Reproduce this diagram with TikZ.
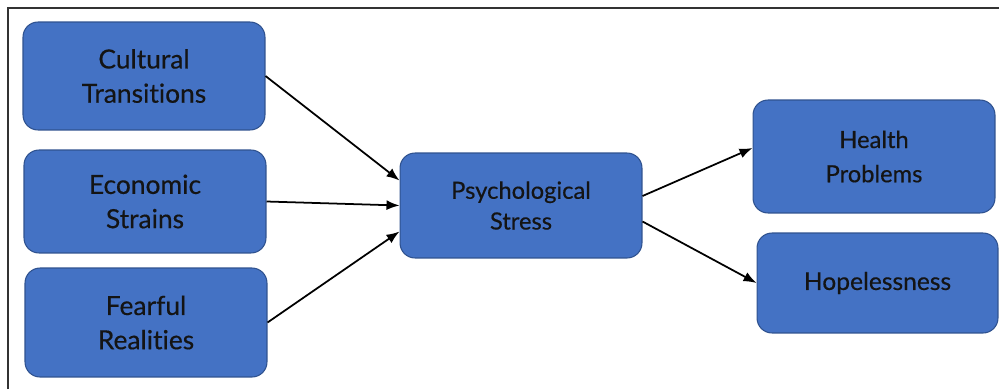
\documentclass[tikz,border=0pt]{standalone}
\usepackage{fontspec}
\setmainfont{Lato}[Ligatures=NoCommon, FakeBold=0.4]
\usepackage{tikz}
\usetikzlibrary{arrows.meta}
\definecolor{boxblue}{HTML}{4472C4}
\definecolor{boxedge}{HTML}{2F528F}
\definecolor{ink}{HTML}{141414}
\tikzset{
	factor/.style={draw=boxedge, line width=0.6pt, fill=boxblue, rounded corners=0.3cm, text=ink, align=center, minimum width=4.84cm, inner sep=2pt},
	link/.style={-{Latex[length=2.6mm, width=2mm]}, line width=1pt, black}
}

\begin{document}
\begin{tikzpicture}[x=0.02cm, y=-0.02cm]
		\useasboundingbox (0,0) rectangle (999,389);
		\draw[line width=0.9pt, black!80] (8,389) -- (8,8) -- (999,8);
		\node[factor, minimum height=2.16cm, font=\fontsize{15}{19.5}\selectfont] (cult) at (144,76) {Cultural\\Transitions};
		\node[factor, minimum height=2.06cm, font=\fontsize{15}{19.5}\selectfont] (econ) at (145,201.5) {Economic\\Strains};
		\node[factor, minimum height=2.18cm, font=\fontsize{15}{19.5}\selectfont] (fear) at (146,322.5) {Fearful\\Realities};
		\node[factor, minimum height=2.10cm, font=\fontsize{13.5}{17.5}\selectfont] (psych) at (521,205.5) {Psychological\\Stress};
		\node[factor, minimum height=2.26cm, font=\fontsize{13.5}{19.5}\selectfont] (health) at (874,156.5) {Health\\Problems};
		\node[factor, minimum width=4.82cm, minimum height=2.00cm, font=\fontsize{14}{18}\selectfont] (hope) at (877.5,283) {Hopelessness};
		\draw[link] (cult.east) -- ([yshift=0.5cm]psych.west);
		\draw[link] (econ.east) -- (psych.west);
		\draw[link] (fear.east) -- ([yshift=-0.52cm]psych.west);
		\draw[link] ([yshift=0.19cm]psych.east) -- ([yshift=0.17cm]health.west);
		\draw[link] ([yshift=-0.32cm]psych.east) -- (hope.west);
	% stress pathways
	\end{tikzpicture}
\end{document}
